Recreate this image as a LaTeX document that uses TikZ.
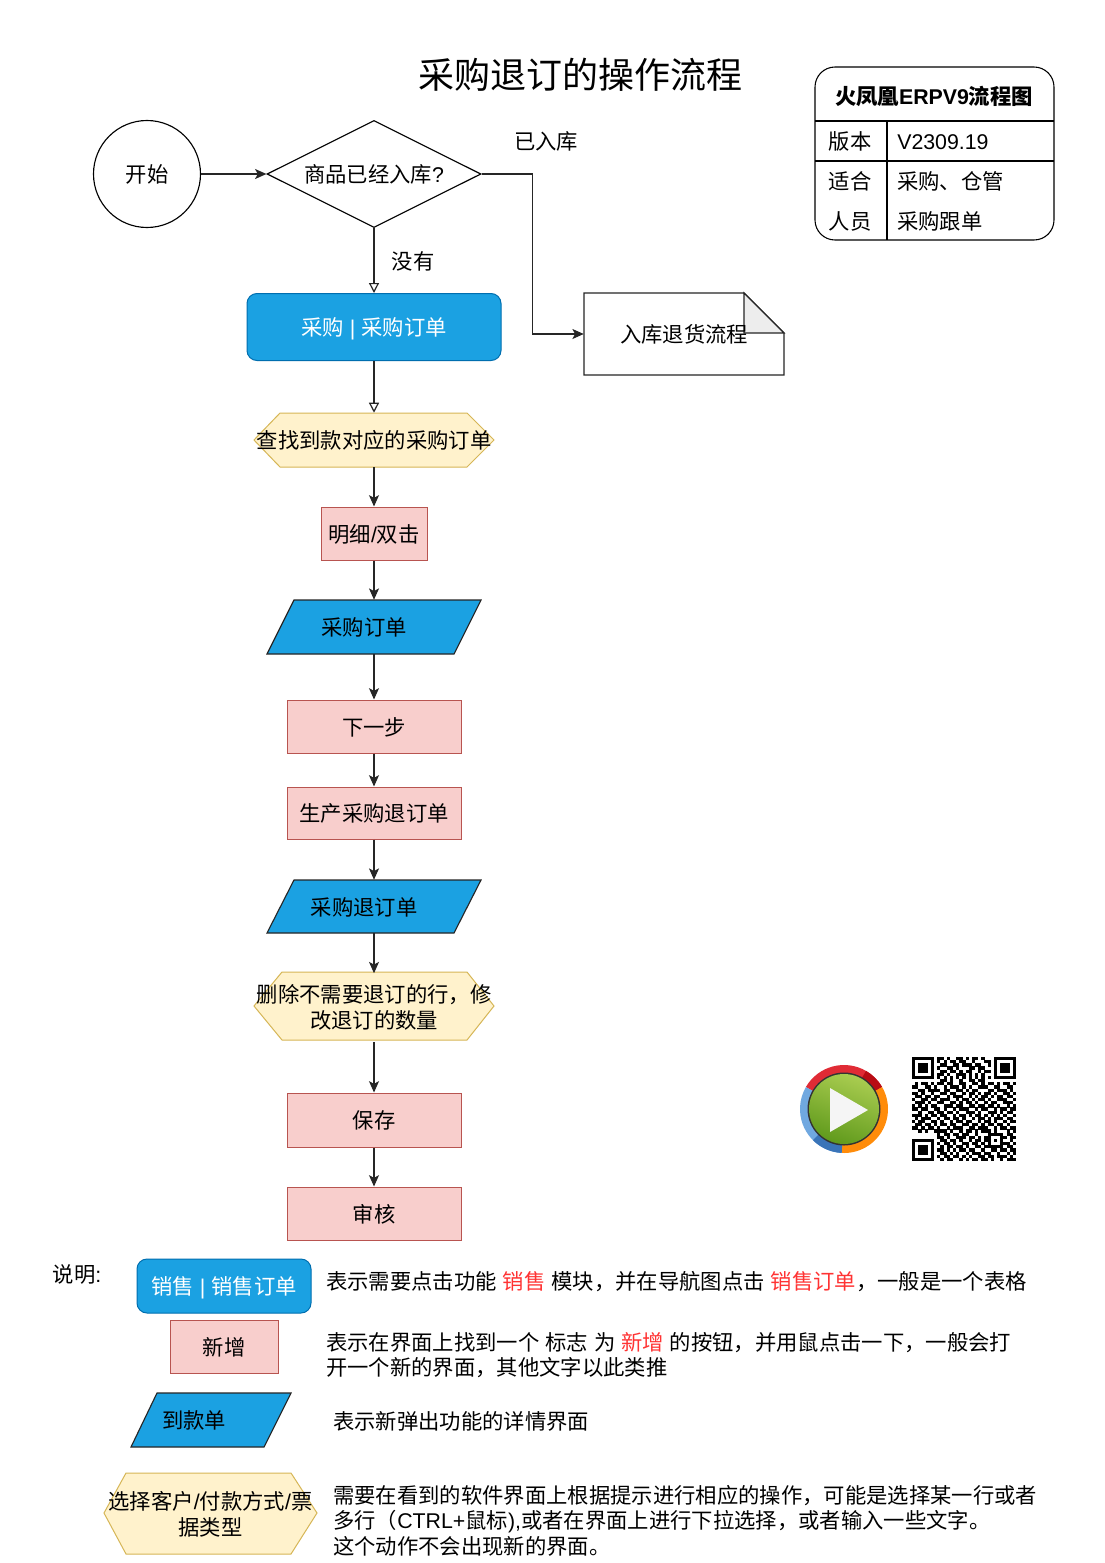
\documentclass[tikz,border=0pt]{standalone}
\usepackage{fontspec}
\setmainfont{Noto Sans CJK SC}
\newfontfamily\latinface{Liberation Sans}
\usetikzlibrary{arrows.meta,shapes.geometric}
\definecolor{bluefill}{HTML}{1BA1E2}
\definecolor{blueline}{HTML}{006EAF}
\definecolor{redfill}{HTML}{F8CECC}
\definecolor{redline}{HTML}{B85450}
\definecolor{yelfill}{HTML}{FFF2CC}
\definecolor{yelline}{HTML}{D6B656}
\definecolor{redtext}{HTML}{FF3333}
\definecolor{ringred}{HTML}{E02B35}
\definecolor{ringdark}{HTML}{B80C14}
\definecolor{ringorange}{HTML}{FF8C0A}
\definecolor{ringblue}{HTML}{70A8E0}
\definecolor{ringblued}{HTML}{3A74B8}
\definecolor{greentop}{HTML}{A9CC50}
\definecolor{greenlow}{HTML}{609A1C}
\newcommand{\la}[1]{{\latinface #1}}
\newcommand{\ks}{\hspace{0.278em}}
\newcommand{\rd}[1]{\textcolor{redtext}{#1}}
\newcount\qrr \newcount\qrc
\def\qrscan#1{\ifx#1;\else\ifx#11\fill[black] ({912+\the\qrc*3.15},{1057+\the\qrr*3.15}) rectangle ++(3.25,3.25);\fi\advance\qrc by1 \expandafter\qrscan\fi}
\def\qrline#1{\qrc=0 \qrscan#1;\advance\qrr by1 }
\tikzset{
  basetext/.style={font=\fontsize{16pt}{18.75pt}\selectfont,inner sep=0pt,text=black},
  lone/.style={basetext,text height=13.4pt,text depth=0pt},
  para/.style={basetext,align=left},
  bluebox/.style={lone,draw=blueline,fill=bluefill,rounded corners=7.5pt,text=white,line width=.75pt},
  redbox/.style={lone,draw=redline,fill=redfill,line width=.75pt},
  bluepoly/.style={fill=bluefill,draw=black!85,line width=.85pt},
  yelpoly/.style={fill=yelfill,draw=yelline,line width=.75pt},
  plainline/.style={draw=black,line width=.8pt},
  link/.style={draw=black!85,line width=.9pt,-{Stealth[length=8.5pt,width=7.5pt,inset=2pt]}},
  openlink/.style={draw=black!85,line width=.9pt,-{Triangle[length=7.5pt,width=7.5pt,fill=white]}}
}
\begin{document}
\begin{tikzpicture}[x=.75pt,y=-.75pt]
\useasboundingbox (0,0) rectangle (1104,1563);
\fill[white] (0,0) rectangle (1104,1563);
% title
\node[inner sep=0pt,font=\fontsize{27pt}{30pt}\selectfont] (title) at (580,75) {采购退订的操作流程};
% info table
\draw[plainline,rounded corners=15pt] (815,67) rectangle (1054,240);
\draw[plainline] (815,121) -- (1054,121);
\draw[plainline] (815,161) -- (1054,161);
\draw[plainline] (887,121) -- (887,240);
\node[lone,font=\fontsize{16pt}{18.75pt}\selectfont\bfseries] (thead) at (934,96) {火凤凰\la{ERPV9}流程图};
\node[lone] (t1) at (850,141) {版本};
\node[lone,anchor=west] (t2) at (897,141) {\la{V2309.19}};
\node[lone] (t3) at (850,181) {适合};
\node[lone,anchor=west] (t4) at (897,181) {采购、仓管};
\node[lone] (t5) at (850,221) {人员};
\node[lone,anchor=west] (t6) at (897,221) {采购跟单};
% start + decision
\node[lone,circle,draw=black,line width=.85pt,minimum size=80.25pt] (start) at (147,174) {开始};
\node[lone,diamond,draw=black,line width=.85pt,minimum width=160.5pt,minimum height=80.25pt,aspect=2] (dec) at (374,174) {商品已经入库\la{?}};
\node[lone] (yes) at (546,141) {已入库};
\node[lone] (no) at (413,261) {没有};
% purchase order
\node[bluebox,minimum width=190.5pt,minimum height=50.25pt] (po) at (374,327) {采购\ks\la{|}\ks 采购订单};
% note
\filldraw[fill=white,draw=black!85,line width=.85pt] (584,293) -- (744,293) -- (784,333) -- (784,375) -- (584,375) -- cycle;
\filldraw[fill=black!7,draw=black!85,line width=.85pt] (744,293) -- (744,333) -- (784,333) -- cycle;
\node[lone,minimum width=150pt,minimum height=61.5pt] (note) at (684,334) {入库退货流程};
% find hexagon
\filldraw[yelpoly] (254,440) -- (280,413) -- (467,413) -- (494,440) -- (467,467) -- (280,467) -- cycle;
\node[lone,minimum width=180pt,minimum height=40.5pt] (find) at (374,440) {查找到款对应的采购订单};
\node[redbox,minimum width=79.5pt,minimum height=39.75pt] (detail) at (374,533.5) {明细\la{/}双击};
% parallelogram 1
\filldraw[bluepoly] (294,600) -- (481,600) -- (454,654) -- (267,654) -- cycle;
\node[lone,minimum width=160.5pt,minimum height=40.5pt] (pa1) at (374,627) {\hspace*{-15pt}采购订单};
\node[redbox,minimum width=130.5pt,minimum height=39.75pt] (next) at (374,726.5) {下一步};
\node[redbox,minimum width=130.5pt,minimum height=39pt] (gen) at (374,813) {生产采购退订单};
% parallelogram 2
\filldraw[bluepoly] (294,880) -- (481,880) -- (454,933) -- (267,933) -- cycle;
\node[lone,minimum width=160.5pt,minimum height=39.75pt] (pa2) at (374,906.5) {\hspace*{-15pt}采购退订单};
% edit hexagon
\filldraw[yelpoly] (254,1006) -- (282,972) -- (467,972) -- (494,1006) -- (467,1040) -- (282,1040) -- cycle;
\node[para,align=center,minimum width=180pt,minimum height=51pt,font=\fontsize{16pt}{19.5pt}\selectfont] (edit) at (374,1007.5) {删除不需要退订的行，修\\改退订的数量};
\node[redbox,minimum width=130.5pt,minimum height=40.5pt] (save) at (374,1120) {保存};
\node[redbox,minimum width=130.5pt,minimum height=39.75pt] (audit) at (374,1213.5) {审核};
% connectors
\draw[link] (start) -- (dec);
\draw[link] (dec.east) -- ++(51,0) |- (note.west);
\draw[openlink] (dec.south) -- (po.north);
\draw[openlink] (po.south) -- (find.north);
\draw[link] (find.south) -- (detail.north);
\draw[link] (detail.south) -- (pa1.north);
\draw[link] (pa1.south) -- (next.north);
\draw[link] (next.south) -- (gen.north);
\draw[link] (gen.south) -- (pa2.north);
\draw[link] (pa2.south) -- (edit.north);
\draw[link] (edit.south) -- (save.north);
\draw[link] (save.south) -- (audit.north);
% play icon
\begin{scope}[shift={(844,1109)},y=.75pt]
  \fill[ringred] (150:44) arc[start angle=150,end angle=30,radius=44] -- (30:36) arc[start angle=30,end angle=150,radius=36] -- cycle;
  \fill[ringdark] (60:44) arc[start angle=60,end angle=30,radius=44] -- (30:36) arc[start angle=30,end angle=60,radius=36] -- cycle;
  \fill[ringorange] (30:44) arc[start angle=30,end angle=-93,radius=44] -- (-93:36) arc[start angle=-93,end angle=30,radius=36] -- cycle;
  \fill[ringblue] (-93:44) arc[start angle=-93,end angle=-210,radius=44] -- (150:36) arc[start angle=-210,end angle=-93,radius=36] -- cycle;
  \fill[ringblued] (-93:44) arc[start angle=-93,end angle=-135,radius=44] -- (-135:36) arc[start angle=-135,end angle=-93,radius=36] -- cycle;
  \fill[black!80] (0,0) circle[radius=36.5];
  \shade[top color=greentop,bottom color=greenlow,shading angle=-20] (0,0) circle[radius=35];
  \fill[black!4] (-14,21) -- (-14,-23) -- (24,-1) -- cycle;
\end{scope}
% QR code
\qrline{1111111 0110100110101101000 1111111}
\qrline{1000001 0101011011001000110 1000001}
\qrline{1011101 0011001101110110010 1011101}
\qrline{1011101 0100110100011011000 1011101}
\qrline{1011101 0011011010110010110 1011101}
\qrline{1000001 0110100111010101000 1000001}
\qrline{1111111 0101010101010101010 1111111}
\qrline{0000000 0011010010011011000 0000000}
\qrline{010110101101100110011010110101101}
\qrline{110011010010111010100111001100110}
\qrline{001101111011001101011000110111010}
\qrline{110100100110110010110101101001101}
\qrline{011011011001011100101011010110110}
\qrline{100110110111001011010110100111001}
\qrline{011101001100110101101001011001110}
\qrline{101010110011101100110110110100101}
\qrline{110110011010010111001011001011011}
\qrline{001001101101101001110100111010110}
\qrline{111010110110010110101101010101001}
\qrline{010111001011011010010110101110110}
\qrline{101100110100101101100101101001011}
\qrline{011011010110110011011010110110100}
\qrline{110101101001011100110111001011011}
\qrline{001010011110100101101011101000101}
\qrline{00000000 1011011011001000 11111 0110}
\qrline{00000000 1101001110110101 10001 1011}
\qrline{1111111 0 0110110100101101 10101 0010}
\qrline{1000001 0 1011010011011010 10001 1101}
\qrline{1011101 0 0101101101001101 11111 0110}
\qrline{1011101 0 1101010110110010 01101 1011}
\qrline{1011101 0 0110101001011101 10010 0101}
\qrline{1000001 0 1011011010100110 11011 1010}
\qrline{1111111 0 0101100101011011 01001 0111}
% legend
\node[lone] (lg) at (77,1274) {说明\la{:}};
\node[bluebox,minimum width=130.5pt,minimum height=40.5pt] (lg1) at (224,1286) {销售\ks\la{|}\ks 销售订单};
\node[redbox,minimum width=81pt,minimum height=39.75pt] (lg2) at (224,1346.5) {新增};
\filldraw[bluepoly] (157,1393) -- (291,1393) -- (264,1447) -- (131,1447) -- cycle;
\node[lone] (lg3) at (194,1420) {到款单};
\filldraw[yelpoly] (104,1513) -- (126,1473) -- (291,1473) -- (317,1513) -- (291,1554) -- (126,1554) -- cycle;
\node[para,align=center,font=\fontsize{16pt}{19.5pt}\selectfont] (lg4) at (210.5,1514.5) {选择客户\la{/}付款方式\la{/}票\\据类型};
\node[lone,anchor=west] (d1) at (326,1281) {表示需要点击功能\ks\rd{销售}\ks 模块，并在导航图点击\ks\rd{销售订单}，一般是一个表格};
\node[para,anchor=west,font=\fontsize{16pt}{18.75pt}\selectfont] (d2) at (326,1355.5) {表示在界面上找到一个\ks 标志\ks 为\ks\rd{新增}\ks 的按钮，并用鼠点击一下，一般会打\\开一个新的界面，其他文字以此类推};
\node[lone,anchor=west] (d3) at (333,1421) {表示新弹出功能的详情界面};
\node[para,anchor=west,font=\fontsize{16pt}{19.2pt}\selectfont] (d4) at (333,1520.5) {需要在看到的软件界面上根据提示进行相应的操作，可能是选择某一行或者\\多行（\la{CTRL+}鼠标\la{),}或者在界面上进行下拉选择，或者输入一些文字。\\这个动作不会出现新的界面。};
\end{tikzpicture}
\end{document}
